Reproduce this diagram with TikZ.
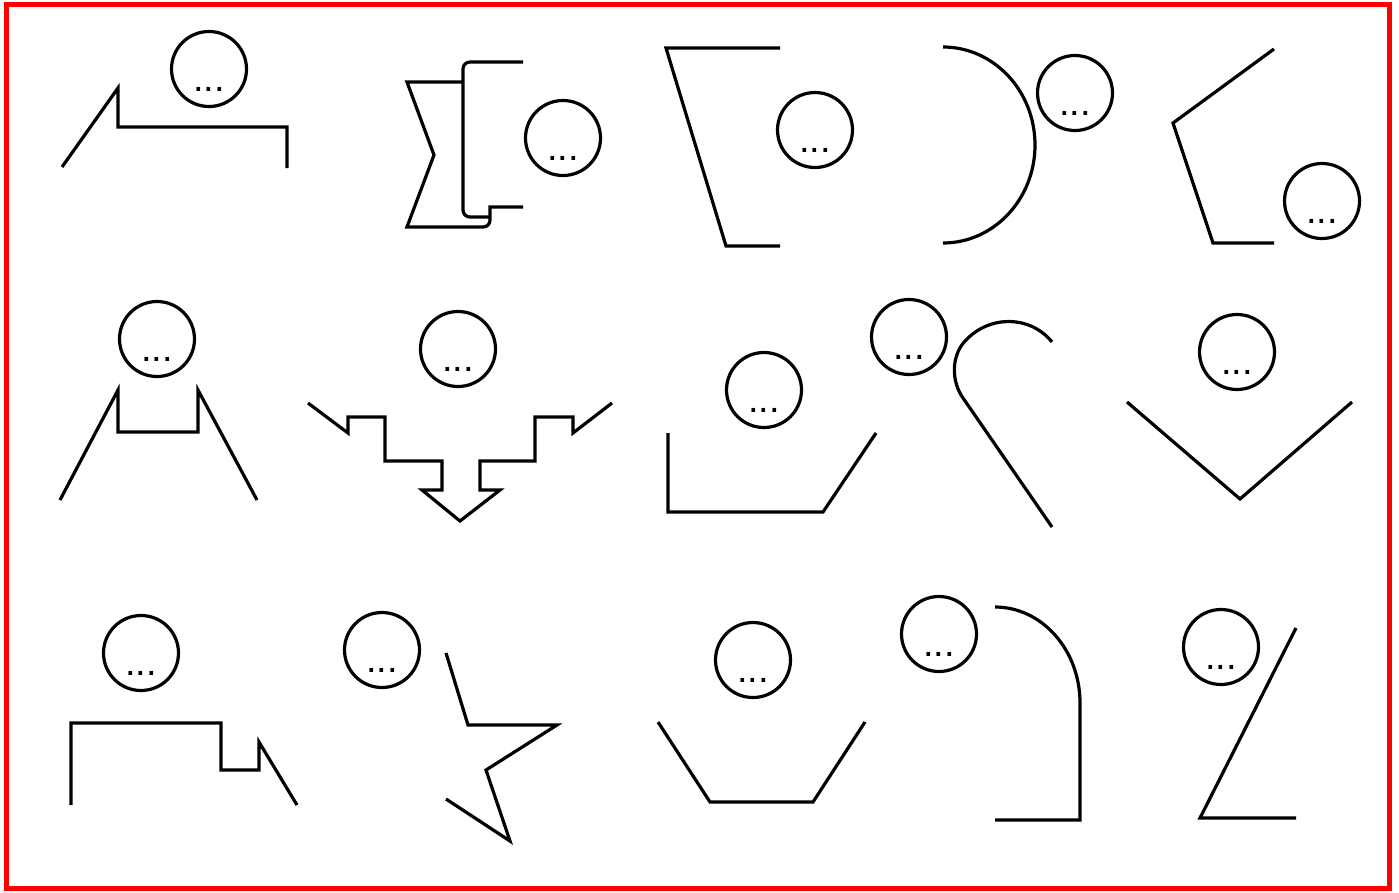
\documentclass[tikz,border=0pt]{standalone}
\usepackage{fontspec}
\newfontfamily\dotfont{Liberation Sans}
\begin{document}
\begin{tikzpicture}[x=1pt,y=-1pt,
  figline/.style={draw=black,line width=3.2pt},
  dotcirc/.style={circle,draw=black,line width=3.2pt,minimum size=75pt,inner sep=0pt,
    text height=45pt,text depth=0pt,font=\dotfont\fontsize{38}{40}\selectfont}]
\useasboundingbox (0,0) rectangle (1399,892);
\fill[white] (0,0) rectangle (1399,892);
\draw[red,line width=4.5pt] (6.5,4.5) rectangle (1389.5,888.5);

% row 1
\draw[figline] (62,167) -- (118,88) -- (118,127) -- (287,127) -- (287,168);
\node[dotcirc] (c1) at (209,69) {...};

\draw[figline] (523,62) -- (470,62) .. controls (466,62) and (463,65) .. (463,69) -- (463,210) .. controls (463,214) and (466,217) .. (470,217) -- (490,217);
\draw[figline] (523,207) -- (490,207) -- (490,220) .. controls (490,224) and (487,227) .. (483,227) -- (407,227) -- (434,155) -- (407,82) -- (463,82);
\node[dotcirc] (c2) at (563,138) {...};

\draw[figline] (780,48) -- (666,48) -- (726,246) -- (780,246);
\node[dotcirc] (c3) at (815,130) {...};

\draw[figline] (943,47) arc[start angle=-90,end angle=90,x radius=92,y radius=98];
\node[dotcirc] (c4) at (1075,93) {...};

\draw[figline] (1274,49) -- (1173,123) -- (1213,243) -- (1274,243);
\node[dotcirc] (c5) at (1322,201) {...};

% row 2
\draw[figline] (60,500) -- (118,390) -- (118,432) -- (198,432) -- (198,390) -- (257,500);
\node[dotcirc] (c6) at (157,339) {...};

\draw[figline] (308,403) -- (348,433) -- (348,417) -- (385,417) -- (385,461) -- (442,461) -- (442,490) -- (422,490) -- (460,521) -- (500,490) -- (480,490) -- (480,461) -- (535,461) -- (535,417) -- (573,417) -- (573,433) -- (612,403);
\node[dotcirc] (c7) at (458,349) {...};

\draw[figline] (668,433) -- (668,512) -- (823,512) -- (876,433);
\node[dotcirc] (c8) at (764,390) {...};

\draw[figline] (1052,527) -- (963,398) .. controls (951,381) and (951,355) .. (966,340) .. controls (990,315) and (1030,315) .. (1052,342);
\node[dotcirc] (c9) at (909,337) {...};

\draw[figline] (1127,402) -- (1240,499) -- (1352,402);
\node[dotcirc] (c10) at (1237,352) {...};

% row 3
\draw[figline] (71,805) -- (71,723) -- (221,723) -- (221,770) -- (259,770) -- (259,742) -- (297,805);
\node[dotcirc] (c11) at (141,653) {...};

\draw[figline] (446,653) -- (468,725) -- (557,725) -- (486,770) -- (510,841) -- (446,799);
\node[dotcirc] (c12) at (382,650) {...};

\draw[figline] (658,722) -- (710,802) -- (813,802) -- (865,722);
\node[dotcirc] (c13) at (753,660) {...};

\draw[figline] (995,607) arc[start angle=-90,end angle=0,x radius=85,y radius=96] -- (1080,820) -- (995,820);
\node[dotcirc] (c14) at (939,634) {...};

\draw[figline] (1296,628) -- (1200,818) -- (1296,818);
\node[dotcirc] (c15) at (1221,647) {...};
\end{tikzpicture}
\end{document}
